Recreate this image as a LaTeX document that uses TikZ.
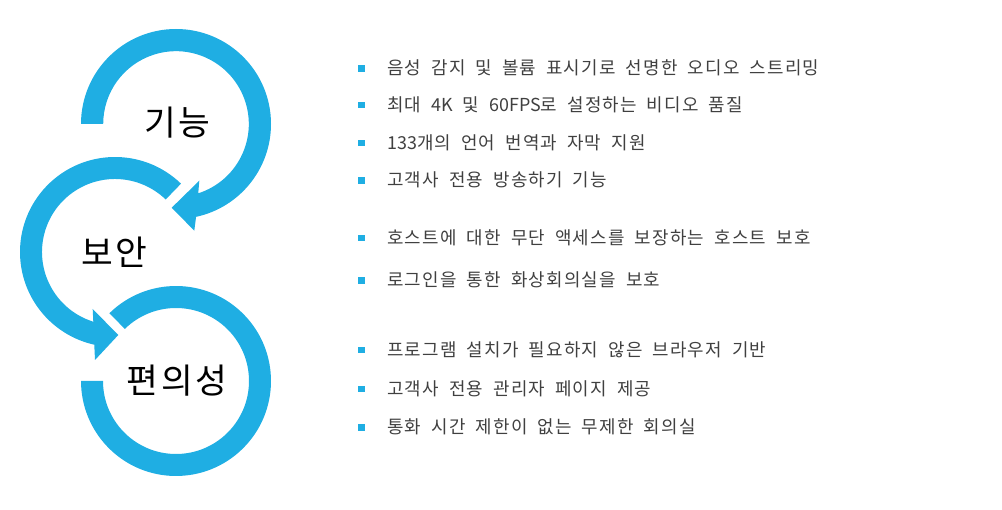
\documentclass[tikz,border=0pt]{standalone}
\usepackage{fontspec}
\usetikzlibrary{calc}
\newfontfamily\kr{Noto Sans CJK KR}[WordSpace=1.9,LetterSpace=7]
\newcommand\latrun[1]{{\addfontfeature{LetterSpace=0}#1}}
\definecolor{ring}{RGB}{31,174,227}
\definecolor{txt}{RGB}{64,64,64}
\begin{document}
\begin{tikzpicture}[x=1pt,y=-1pt,
  ringfill/.style={fill=ring},
  lbl/.style={font=\kr\fontsize{34.5}{40}\selectfont, text=black, inner sep=0pt},
  item/.style={font=\kr\fontsize{17.9}{22}\selectfont, text=txt, anchor=west, inner sep=0pt},
  bul/.style={fill=ring, minimum size=6.5pt, inner sep=0pt}]
\useasboundingbox (0,0) rectangle (1002,510);
% circle 1
\fill[ringfill] ($(176,124)+(180:95)$) arc[start angle=180, end angle=437.8, radius=95]
  -- (194.3,230.7) -- (171.7,207.7) -- (199.3,180.7)
  -- ($(176,124)+(432.2:72.8)$) arc[start angle=432.2, end angle=180, radius=72.8] -- cycle;
% circle 2
\fill[ringfill] ($(115,252)+(-46:95)$) arc[start angle=-46, end angle=-257.4, radius=95]
  -- (95,360) -- (118.3,335) -- (92.7,309)
  -- ($(115,252)+(-252.7:73)$) arc[start angle=-252.7, end angle=-46, radius=73] -- cycle;
% circle 3
\fill[ringfill] ($(176,381)+(225.5:95)$) arc[start angle=225.5, end angle=540, radius=95]
  -- ($(176,381)+(540:73)$) arc[start angle=540, end angle=225.5, radius=73] -- cycle;
% labels
\node[lbl] (l1) at (177,123) {기능};
\node[lbl] (l2) at (114,252) {보안};
\node[lbl] (l3) at (177,381) {편의성};
% items
\foreach \y/\t [count=\i] in {68/음성 감지 및 볼륨 표시기로 선명한 오디오 스트리밍,
  104.5/최대 \latrun{4K} 및 \latrun{60FPS}로 설정하는 비디오 품질,
  142.5/\latrun{133}개의 언어 번역과 자막 지원,
  180/고객사 전용 방송하기 기능,
  237.5/호스트에 대한 무단 액세스를 보장하는 호스트 보호,
  280/로그인을 통한 화상회의실을 보호,
  349.7/프로그램 설치가 필요하지 않은 브라우저 기반,
  388.7/고객사 전용 관리자 페이지 제공,
  427/통화 시간 제한이 없는 무제한 회의실}{
  \node[bul] (b\i) at (361.5,\y+0.5) {};
  \node[item] (t\i) at (387,\y) {\t};
}
\end{tikzpicture}
\end{document}
